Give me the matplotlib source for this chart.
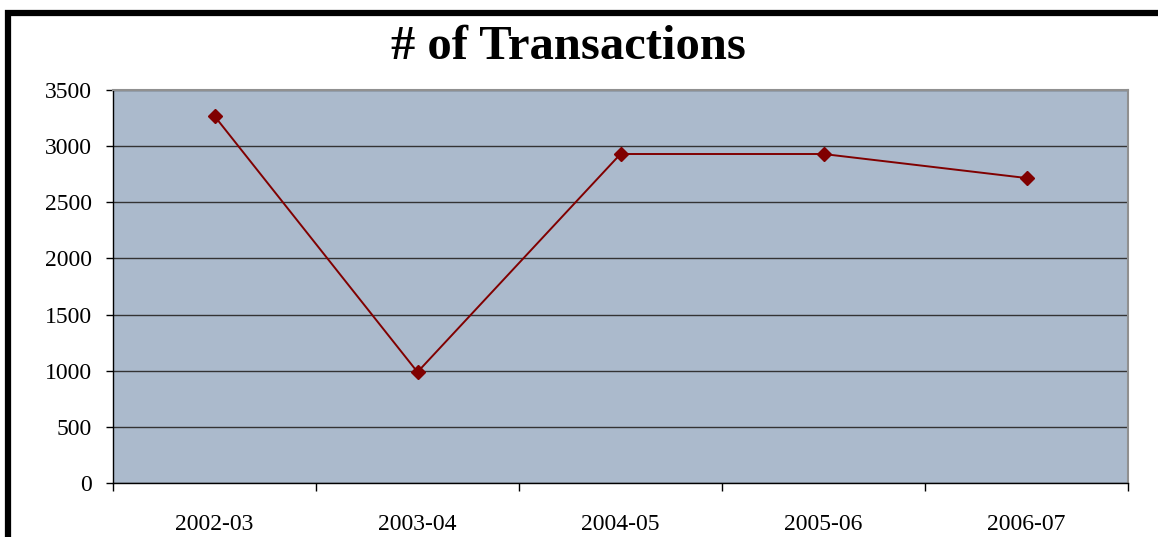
import matplotlib
matplotlib.use("Agg")
import matplotlib.pyplot as plt
from matplotlib.patches import Rectangle
import numpy as np

# datos
periodos = ["2002-03", "2003-04", "2004-05", "2005-06", "2006-07"]
transacciones = [3268, 988, 2930, 2930, 2716]
yticks = [0, 500, 1000, 1500, 2000, 2500, 3000, 3500]

plt.rcParams['font.family'] = ['Liberation Serif', 'DejaVu Serif']

fig = plt.figure(figsize=(11.58, 5.37), dpi=100)
ax = fig.add_axes([113/1158, 54/537, (1128-113)/1158, (483-90)/537])

x = np.arange(len(periodos))
ax.set_facecolor("#abbacc")
ax.plot(x, transacciones, color="#800000", linewidth=1.4,
        marker="D", markersize=7, zorder=3)

ax.set_xlim(-0.5, len(periodos) - 0.5)
ax.set_ylim(0, 3500)
ax.set_yticks(yticks)
ax.set_yticklabels([str(v) for v in yticks], fontsize=17)
ax.yaxis.grid(True, color="#333333", linewidth=1)
ax.set_axisbelow(True)

ax.set_xticks(x)
ax.set_xticklabels(periodos, fontsize=17)
ax.set_xticks(np.arange(len(periodos) + 1) - 0.5, minor=True)
ax.tick_params(axis="x", which="major", length=0, pad=22)
ax.tick_params(axis="x", which="minor", length=6, width=1, color="black")
ax.tick_params(axis="y", length=5, width=1, color="black", pad=10)

for lado in ["top", "right"]:
    ax.spines[lado].set_color("#909090")
    ax.spines[lado].set_linewidth(1.5)
for lado in ["left", "bottom"]:
    ax.spines[lado].set_color("black")
    ax.spines[lado].set_linewidth(1)

fig.text(568/1158, 1 - 47/537, "# of Transactions", ha="center", va="center",
         fontsize=35, fontweight="bold")

# marco negro de la figura
marco = Rectangle((8/1158, -0.1), 1.2, 1.1 - 13/537, transform=fig.transFigure,
                  fill=False, edgecolor="black", linewidth=4.5, clip_on=False)
fig.patches.append(marco)

fig.savefig("out.png", dpi=100)
